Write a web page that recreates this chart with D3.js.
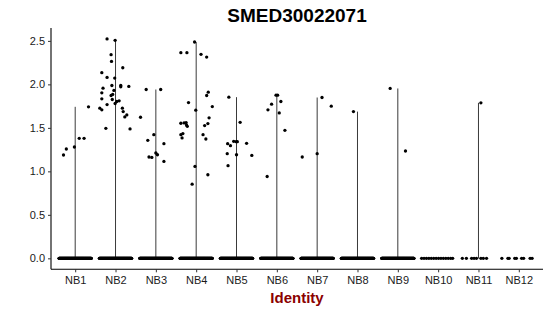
<!DOCTYPE html>
<html>
<head>
<meta charset="utf-8">
<script src="https://cdn.jsdelivr.net/npm/d3@7/dist/d3.min.js"></script>
<style>
  html, body { margin: 0; padding: 0; background: #fff; }
  svg text { font-family: "Liberation Sans", Arial, Helvetica, sans-serif; }
</style>
</head>
<body>
<svg id="chart" width="550" height="316"></svg>
<script>
// ---------------- data ----------------
const title = "SMED30022071";
const xLabel = "Identity";
const categories = ["NB1","NB2","NB3","NB4","NB5","NB6","NB7","NB8","NB9","NB10","NB11","NB12"];
const yTicks = [0.0, 0.5, 1.0, 1.5, 2.0, 2.5];

// non-zero expression points: group index, value, horizontal jitter (fraction of band step)
const pointGroup = [
  0,0,0,0,0,0,
  1,1,1,1,1,1,1,1,1,1,1,1,1,1,1,1,1,1,1,1,1,1,1,1,1,1,1,1,1,1,1,
  2,2,2,2,2,2,2,2,2,2,2,
  3,3,3,3,3,3,3,3,3,3,3,3,3,3,3,3,3,3,3,3,3,3,3,3,3,3,
  4,4,4,4,4,4,4,4,4,4,4,4,
  5,5,5,5,5,5,5,5,
  6,6,6,6,
  7,
  8,8,
  10
];
const pointValue = [
  1.188,1.257,1.280,1.380,1.380,1.742,
  2.522,2.506,2.341,2.264,2.191,2.134,2.080,2.072,1.956,1.987,1.987,1.972,1.976,1.930,1.903,1.884,1.872,1.834,1.826,1.803,1.811,1.780,1.768,1.726,1.707,1.726,1.687,1.649,1.626,1.495,1.488,
  1.941,1.941,1.622,1.357,1.422,1.318,1.211,1.191,1.165,1.160,1.114,
  2.487,2.364,2.364,2.345,2.314,1.910,1.872,1.745,1.791,1.703,1.615,1.553,1.557,1.561,1.534,1.518,1.549,1.526,1.422,1.434,1.384,1.422,1.372,1.057,0.961,0.853,
  1.853,1.564,1.345,1.341,1.341,1.318,1.295,1.322,1.203,1.191,1.183,1.065,
  1.876,1.876,1.803,1.772,1.707,1.672,1.472,0.941,
  1.849,1.749,1.203,1.165,
  1.687,
  1.953,1.234,
  1.788
];
const pointJitter = [
  -0.29,-0.22,-0.02,0.10,0.22,0.33,
  -0.21,-0.01,-0.11,-0.10,0.18,-0.34,-0.21,-0.02,-0.31,-0.09,0.13,0.13,0.33,-0.04,-0.34,-0.07,-0.11,-0.34,-0.08,0.03,0.09,-0.01,-0.21,-0.39,-0.34,0.17,0.19,0.28,0.23,-0.24,0.36,
  -0.24,0.12,-0.38,-0.20,-0.05,0.20,0.00,0.04,-0.17,-0.10,0.20,
  -0.04,-0.38,-0.23,0.12,0.26,0.30,0.26,0.40,-0.19,-0.01,0.32,-0.38,-0.30,-0.25,-0.24,-0.22,0.29,0.21,-0.38,-0.33,-0.35,0.17,0.24,-0.03,0.29,-0.10,
  -0.19,0.09,-0.07,-0.01,0.02,-0.22,-0.15,0.25,-0.23,0.00,0.38,-0.21,
  -0.02,0.02,0.10,-0.13,-0.22,0.06,0.20,-0.24,
  0.12,0.35,0.00,-0.37,
  -0.10,
  -0.19,0.19,
  0.06
];

// cells with zero expression per group (dense groups are spread evenly over the jitter width)
const zeroCounts = [160,160,160,160,160,160,160,160,160,14,8,9];
const zeroJitterNB10 = [-0.41,-0.35,-0.29,-0.23,-0.17,-0.11,-0.05,0.01,0.07,0.13,0.19,0.25,0.31,0.36];
const zeroJitterNB11 = [-0.40,-0.30,-0.17,-0.11,-0.05,0.06,0.12,0.20];
const zeroJitterNB12 = [-0.42,-0.27,-0.24,-0.10,-0.06,0.07,0.12,0.28,0.33];

// ---------------- chart ----------------
const svg = d3.select("#chart");
const mLeft = 51, mRight = 543, mTop = 28, mBottom = 269.3;

const x = d3.scalePoint().domain(categories).range([mLeft, mRight]).padding(0.6);
const step = x.step();

const maxV = d3.max(pointValue);
const yExp = maxV * 0.05;
const y = d3.scaleLinear().domain([-yExp, maxV + yExp]).range([mBottom, mTop]);

// assemble all points
const points = [];
pointValue.forEach((v, i) => points.push({g: pointGroup[i], v: v, j: pointJitter[i]}));
const sparse = {9: zeroJitterNB10, 10: zeroJitterNB11, 11: zeroJitterNB12};
zeroCounts.forEach((n, g) => {
  if (sparse[g]) {
    sparse[g].forEach(j => points.push({g: g, v: 0, j: j}));
  } else {
    for (let k = 0; k < n; k++) points.push({g: g, v: 0, j: -0.4 + 0.8 * k / (n - 1)});
  }
});

// violins (degenerate: essentially a line from min to max of each group)
const violinData = categories.map((c, g) => {
  const vals = points.filter(p => p.g === g).map(p => p.v);
  return {c: c, min: d3.min(vals), max: d3.max(vals)};
}).filter(d => d.max > d.min);

svg.append("g").selectAll("line").data(violinData).join("line")
  .attr("x1", d => x(d.c)).attr("x2", d => x(d.c))
  .attr("y1", d => y(d.min)).attr("y2", d => y(d.max))
  .attr("stroke", "#3a3a3a").attr("stroke-width", 1);

svg.append("g").selectAll("circle").data(points).join("circle")
  .attr("cx", d => x(categories[d.g]) + d.j * step)
  .attr("cy", d => y(d.v))
  .attr("r", 1.65)
  .attr("fill", "#000");

// axes
const yAxis = svg.append("g").attr("transform", `translate(${mLeft},0)`)
  .call(d3.axisLeft(y).tickValues(yTicks).tickFormat(d3.format(".1f")).tickSize(3).tickPadding(3));
yAxis.select(".domain").attr("d", `M0,${mTop}V${mBottom}`).attr("stroke", "#000").attr("stroke-width", 1.1);
yAxis.selectAll(".tick line").attr("stroke", "#333");
yAxis.selectAll(".tick text").attr("font-size", 11).attr("fill", "#1a1a1a")
  .style("font-family", "'Liberation Sans', Arial, sans-serif");

const xAxis = svg.append("g").attr("transform", `translate(0,${mBottom})`)
  .call(d3.axisBottom(x).tickSize(3).tickPadding(4));
xAxis.select(".domain").attr("d", `M${mLeft},0H${mRight}`).attr("stroke", "#000").attr("stroke-width", 1.1);
xAxis.selectAll(".tick line").attr("stroke", "#333");
xAxis.selectAll(".tick text").attr("font-size", 11).attr("fill", "#1a1a1a")
  .style("font-family", "'Liberation Sans', Arial, sans-serif");

// title and axis label
svg.append("text").attr("x", (mLeft + mRight) / 2).attr("y", 21.7)
  .attr("text-anchor", "middle").attr("font-size", 19).attr("font-weight", "bold")
  .attr("fill", "#000").text(title);

svg.append("text").attr("x", (mLeft + mRight) / 2).attr("y", 303)
  .attr("text-anchor", "middle").attr("font-size", 15).attr("font-weight", "bold")
  .attr("fill", "#8b0000").text(xLabel);
</script>
</body>
</html>
